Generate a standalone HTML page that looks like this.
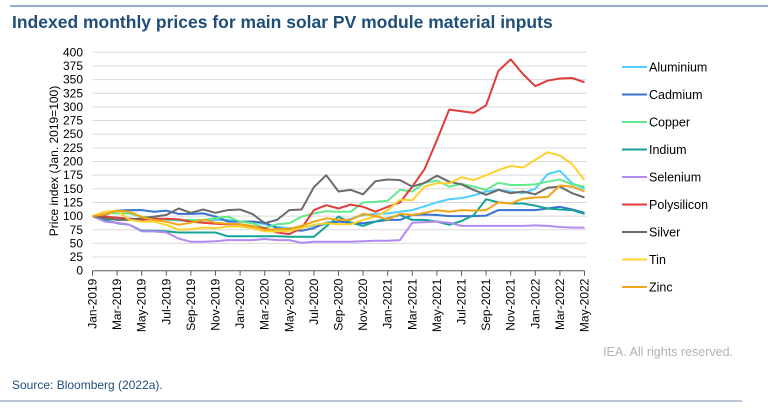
<!DOCTYPE html>
<html><head><meta charset="utf-8">
<style>
body{margin:0;background:#fff;width:768px;height:412px;overflow:hidden;font-family:"Liberation Sans",Arial,sans-serif;}
svg{display:block}
</style></head>
<body>
<svg id="chart" width="768" height="412" xmlns="http://www.w3.org/2000/svg">
<line x1="10" y1="6" x2="768" y2="6" stroke="#6d8fbf" stroke-width="1.5"/>
<text x="12" y="28" font-size="17.5" font-weight="bold" fill="#1f4e79">Indexed monthly prices for main solar PV module material inputs</text>
<text transform="translate(58,161) rotate(-90)" text-anchor="middle" font-size="12" fill="#000">Price index (Jan. 2019=100)</text>
<g id="grid"></g><g id="yticks"></g><g id="xaxis"></g><g id="series"></g><g id="legend"></g>
<text x="733" y="356" text-anchor="end" font-size="12.5" fill="#b3b3b3">IEA. All rights reserved.</text>
<text x="12" y="389" font-size="12" fill="#1f4e79">Source: Bloomberg (2022a).</text>
<line x1="0" y1="401" x2="742" y2="401" stroke="#a5b4cc" stroke-width="1.5"/>
</svg>
<script>
const months=["Jan","Feb","Mar","Apr","May","Jun","Jul","Aug","Sep","Oct","Nov","Dec"];
const yTicks=[0,25,50,75,100,125,150,175,200,225,250,275,300,325,350,375,400];
const seriesNames=["Aluminium","Cadmium","Copper","Indium","Selenium","Polysilicon","Silver","Tin","Zinc"];
const aluminium=[100,98,97,95,95,94,93,92,91,92,93,93,90,90,85,80,78,79,82,85,90,95,102,104,105,108,111,118,125,131,133,138,145,148,145,142,150,177,183,160,150];
const cadmium=[100,102,110,111,111,108,110,104,104,105,99,90,90,90,88,78,75,73,78,88,90,88,87,90,93,93,102,103,102,100,100,100,101,111,111,111,111,114,117,112,106];
const copper=[100,106,105,105,99,96,94,93,93,93,96,99,90,87,78,85,87,99,105,109,108,108,125,126,128,148,145,161,165,154,159,154,148,161,157,157,158,163,167,158,154];
const indium=[100,93,87,84,73,73,72,70,70,70,70,63,63,63,63,63,62,62,62,81,99,88,82,90,96,102,93,93,90,84,91,102,131,125,123,123,119,114,112,111,104];
const selenium=[100,90,88,84,72,72,70,59,53,53,54,56,56,56,58,56,56,51,53,53,53,53,54,55,55,56,88,89,90,88,82,82,82,82,82,82,83,82,80,79,79];
const polysilicon=[100,99,97,95,93,95,95,94,90,88,86,85,85,81,78,70,67,78,111,120,114,121,117,108,117,125,154,186,239,295,292,289,303,366,387,360,338,348,352,353,345];
const silver=[100,96,93,93,96,99,102,114,106,112,106,111,112,104,87,93,111,112,153,175,145,148,140,164,167,166,154,161,174,163,158,148,139,148,142,145,140,152,154,142,134];
const tin=[100,108,110,93,90,90,84,75,76,79,78,81,81,78,72,72,73,78,84,87,85,85,93,99,111,130,129,154,160,160,171,166,175,184,192,189,203,217,211,195,166];
const zinc=[100,103,110,108,98,93,90,84,88,93,88,86,85,82,75,76,77,82,90,96,93,93,104,100,94,104,102,106,111,108,111,110,111,125,123,132,134,135,156,154,145];
const allSeries=[aluminium,cadmium,copper,indium,selenium,polysilicon,silver,tin,zinc];
const colors=["#4fd0ff","#3a72d0","#63e88c","#14a398","#b389f2","#e03c3c","#6b6b6b","#ffd12e","#f2a516"];
const NS="http://www.w3.org/2000/svg";
const X0=92.5,X1=584.5,Y0=270.7,Y1=52.3;
const n=aluminium.length;
function xs(i){return X0+(X1-X0)*i/(n-1);}
function ys(v){return Y0-(Y0-Y1)*v/400;}
function mk(tag,attrs,parent){const e=document.createElementNS(NS,tag);for(const k in attrs)e.setAttribute(k,attrs[k]);parent.appendChild(e);return e;}
const grid=document.getElementById('grid'),yt=document.getElementById('yticks'),xa=document.getElementById('xaxis'),sg=document.getElementById('series'),lg=document.getElementById('legend');
yTicks.forEach(v=>{
  if(v>0){const l=mk('line',{x1:X0,x2:X1+2,y1:ys(v),y2:ys(v),stroke:'#d9d9d9','stroke-width':1},grid);
  
  }
  const t=mk('text',{x:83,y:ys(v)+4,'text-anchor':'end','font-size':12,fill:'#000'},yt);
  t.textContent=v;
  
  
});
const ax=mk('line',{x1:X0,x2:X1,y1:Y0,y2:Y0,stroke:'#595959','stroke-width':1},xa);


for(let i=0;i<n;i+=2){
  const tk=mk('line',{x1:xs(i),x2:xs(i),y1:Y0,y2:Y0+5,stroke:'#595959','stroke-width':1},xa);
  
  
  const lab=months[i%12]+'-'+(2019+Math.floor(i/12));
  const t=mk('text',{transform:`translate(${xs(i)+4},${Y0+8}) rotate(-90)`,'text-anchor':'end','font-size':12,fill:'#000'},xa);
  t.textContent=lab;
  
  
}
allSeries.forEach((arr,si)=>{
  const pts=arr.map((v,i)=>xs(i).toFixed(1)+','+ys(v).toFixed(1)).join(' ');
  const p=mk('polyline',{points:pts,fill:'none',stroke:colors[si],'stroke-width':2,'stroke-linejoin':'round'},sg);
  
  
  const ly=67+si*27.5;
  const g=mk('g',{},lg);
  
  
  mk('line',{x1:622,x2:647,y1:ly,y2:ly,stroke:colors[si],'stroke-width':2},g);
  const t=mk('text',{x:649,y:ly+4.5,'font-size':12.5,fill:'#000'},g);
  t.textContent=seriesNames[si];
});
</script>
</body></html>
